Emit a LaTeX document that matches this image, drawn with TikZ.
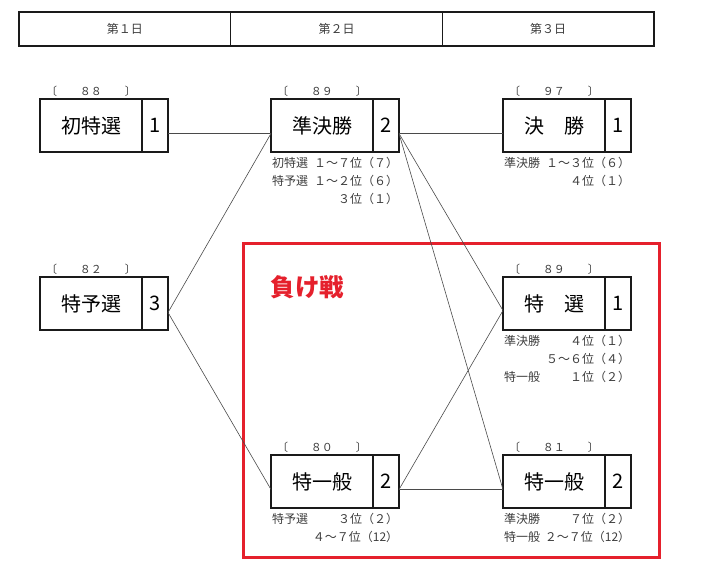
\documentclass[tikz,border=0pt]{standalone}
\usepackage{fontspec}
\setmainfont{Noto Sans CJK JP}
\usetikzlibrary{positioning}
\definecolor{ink}{HTML}{1A1A1A}
\definecolor{note}{HTML}{3C3C3C}
\definecolor{wirecol}{HTML}{4A4A4A}
\definecolor{losered}{HTML}{E5202C}
\tikzset{
  daycell/.style={draw=ink,line width=1.3pt,outer sep=0pt,minimum width=211.7pt,
    minimum height=34pt,font=\fontsize{12}{14}\selectfont,text=note},
  racebox/.style={draw=ink,line width=1.6pt,outer sep=0pt,inner sep=0pt,
    minimum width=102pt,minimum height=53pt,font=\fontsize{20}{22}\selectfont},
  numbox/.style={draw=ink,line width=1.6pt,outer sep=0pt,inner sep=0pt,
    minimum width=26pt,minimum height=53pt,font=\fontsize{20}{22}\selectfont},
  seed/.style={text width=90pt,inner sep=1pt,font=\fontsize{11}{12}\selectfont,text=note},
  remark/.style={text width=126pt,align=left,inner sep=1pt,anchor=north west,
    font=\fontsize{12}{18}\selectfont,text=note},
  wire/.style={draw=wirecol,line width=0.6pt},
  loserzone/.style={draw=losered,line width=3pt,minimum width=416pt,minimum height=314pt},
  losertag/.style={text=losered,font=\fontsize{24.5}{26}\selectfont\bfseries,inner sep=0pt}
}
\begin{document}
\begin{tikzpicture}[x=1pt,y=-1pt]
  \useasboundingbox (0,0) rectangle (710,575);
  % day header
  \node[daycell] (day1) at (124.8,29) {第１日};
  \node[daycell,right=0pt of day1] (day2) {第２日};
  \node[daycell,right=0pt of day2] (day3) {第３日};
  % losers' bracket
  \node[loserzone] (losers) at (451,400) {};
  \node[losertag,anchor=north west] at ([xshift=29pt,yshift=-34pt]losers.north west) {負け戦};
  % day 1
  \node[racebox] (d1a) at (91,125.5) {初特選};
  \node[numbox,right=0pt of d1a] (d1an) {1};
  \node[seed,above=1pt of d1a] {〔\hfill ８８\hfill 〕};
  \node[racebox] (d1b) at (91,303.5) {特予選};
  \node[numbox,right=0pt of d1b] (d1bn) {3};
  \node[seed,above=1pt of d1b] {〔\hfill ８２\hfill 〕};
  % day 2
  \node[racebox] (d2a) at (322,125.5) {準決勝};
  \node[numbox,right=0pt of d2a] (d2an) {2};
  \node[seed,above=1pt of d2a] {〔\hfill ８９\hfill 〕};
  \node[remark] at ([yshift=-4pt]d2a.south west) {初特選\hfill １～７位（７）\\特予選\hfill １～２位（６）\\\hfill ３位（１）};
  \node[racebox] (d2b) at (322,481.5) {特一般};
  \node[numbox,right=0pt of d2b] (d2bn) {2};
  \node[seed,above=1pt of d2b] {〔\hfill ８０\hfill 〕};
  \node[remark] at ([yshift=-4pt]d2b.south west) {特予選\hfill ３位（２）\\\hfill ４～７位（12）};
  % day 3
  \node[racebox] (d3a) at (554,125.5) {決　勝};
  \node[numbox,right=0pt of d3a] (d3an) {1};
  \node[seed,above=1pt of d3a] {〔\hfill ９７\hfill 〕};
  \node[remark] at ([yshift=-4pt]d3a.south west) {準決勝\hfill １～３位（６）\\\hfill ４位（１）};
  \node[racebox] (d3b) at (554,303.5) {特　選};
  \node[numbox,right=0pt of d3b] (d3bn) {1};
  \node[seed,above=1pt of d3b] {〔\hfill ８９\hfill 〕};
  \node[remark] at ([yshift=-4pt]d3b.south west) {準決勝\hfill ４位（１）\\\hfill ５～６位（４）\\特一般\hfill １位（２）};
  \node[racebox] (d3c) at (554,481.5) {特一般};
  \node[numbox,right=0pt of d3c] (d3cn) {2};
  \node[seed,above=1pt of d3c] {〔\hfill ８１\hfill 〕};
  \node[remark] at ([yshift=-4pt]d3c.south west) {準決勝\hfill ７位（２）\\特一般\hfill ２～７位（12）};
  % connections
  \draw[wire] ([yshift=-8pt]d1an.east) -- ([yshift=-8pt]d2a.west);
  \draw[wire] ([yshift=-9pt]d1bn.east) -- ([yshift=-8pt]d2a.west);
  \draw[wire] ([yshift=-9pt]d1bn.east) -- ([yshift=-8pt]d2b.west);
  \draw[wire] ([yshift=-8pt]d2an.east) -- ([yshift=-8pt]d3a.west);
  \draw[wire] ([yshift=-8pt]d2an.east) -- ([yshift=-7pt]d3b.west);
  \draw[wire] ([yshift=-8pt]d2an.east) -- ([yshift=-8pt]d3c.west);
  \draw[wire] ([yshift=-8pt]d2bn.east) -- ([yshift=-7pt]d3b.west);
  \draw[wire] ([yshift=-8pt]d2bn.east) -- ([yshift=-8pt]d3c.west);
\end{tikzpicture}
\end{document}
